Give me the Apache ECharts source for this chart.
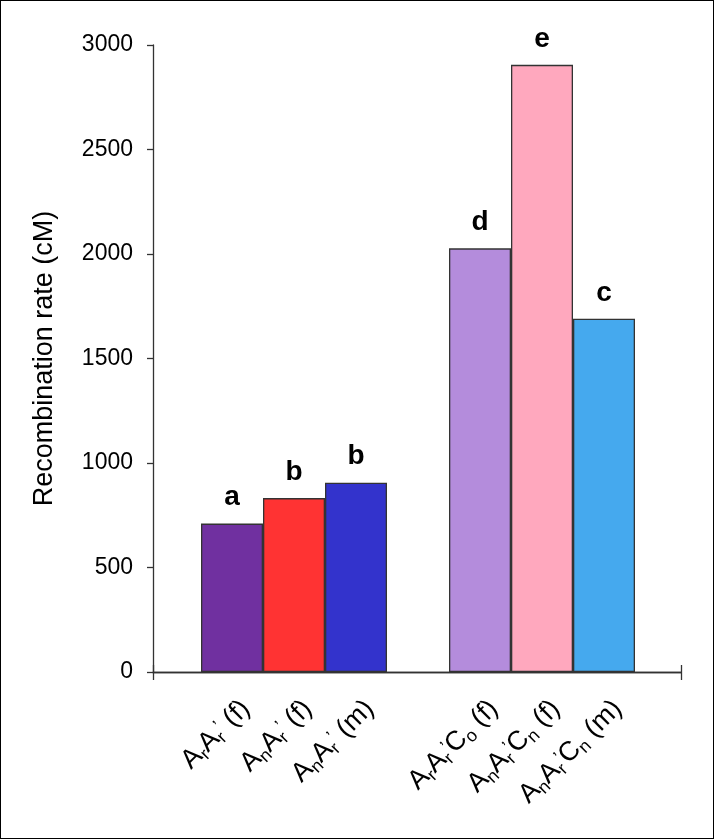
<!DOCTYPE html>
<html><head><meta charset="utf-8">
<script src="https://cdn.jsdelivr.net/npm/echarts@6/dist/echarts.min.js"></script>
<style>
html,body{margin:0;padding:0;background:#fff;}
#c{width:714px;height:839px;box-sizing:border-box;border:1px solid #000;}
</style></head>
<body><div id="c"></div>
<script>
// ---- data ----
var categories = [
  '{m|A}{s|r}{m|A}{s|r}{p|\u2019}{m| (f)}',
  '{m|A}{s|n}{m|A}{s|r}{p|\u2019}{m| (f)}',
  '{m|A}{s|n}{m|A}{s|r}{p|\u2019}{m| (m)}',
  '',
  '{m|A}{s|r}{m|A}{s|r}{p|\u2019}{m|C}{s|o}{m| (f)}',
  '{m|A}{s|n}{m|A}{s|r}{p|\u2019}{m|C}{s|n}{m| (f)}',
  '{m|A}{s|n}{m|A}{s|r}{p|\u2019}{m|C}{s|n}{m| (m)}'
];
var values = [710, 832, 906, null, 2027, 2905, 1690];
var letters = ['a', 'b', 'b', '', 'd', 'e', 'c'];
var colors = ['#7030A0', '#FF3333', '#3333CC', '#ffffff', '#B48CDC', '#FFA8BE', '#45A9EE'];
var yTicks = {min: 0, max: 3000, interval: 500};
var yTitle = 'Recombination rate (cM)';

var font = 'Liberation Sans, Arial, sans-serif';
var chart = echarts.init(document.getElementById('c'));
var frameAxis = {
  gridIndex: 0, type: 'value', min: 0, max: 1, interval: 1, position: 'bottom',
  axisLine: {show: true, lineStyle: {color: '#333', width: 1.3}},
  axisLabel: {show: false}, splitLine: {show: false}
};
chart.setOption({
  animation: false,
  grid: [
    {left: 152, right: 32, top: 44, bottom: 166},
    {left: 200, right: 78, top: 44, bottom: 166}
  ],
  xAxis: [
    Object.assign({}, frameAxis, {axisTick: {show: true, inside: false, length: 8, lineStyle: {color: '#333', width: 1.3}}}),
    Object.assign({}, frameAxis, {axisTick: {show: true, inside: true, length: 7, lineStyle: {color: '#333', width: 1.3}}}),
    {gridIndex: 1, type: 'category', data: categories,
     axisLine: {show: false}, axisTick: {show: false},
     axisLabel: {interval: 0, rotate: 45, margin: 6, color: '#000', padding: [57, 9, 0, 0],
       fontFamily: font, fontSize: 27,
       rich: {
         m: {fontSize: 27, fontFamily: font, color: '#000', lineHeight: 32, verticalAlign: 'middle'},
         s: {fontSize: 18, fontFamily: font, color: '#000', verticalAlign: 'bottom', lineHeight: 32},
         p: {fontSize: 18, fontFamily: font, color: '#000', verticalAlign: 'middle', lineHeight: 32, padding: [0, 0, 8, 0]}
       }}}
  ],
  yAxis: [
    {gridIndex: 0, type: 'value', min: yTicks.min, max: yTicks.max, interval: yTicks.interval,
     name: yTitle, nameLocation: 'middle', nameGap: 95,
     nameTextStyle: {fontSize: 27, fontFamily: font, color: '#000'},
     axisLine: {show: true, lineStyle: {color: '#333', width: 1.3}},
     axisTick: {show: true, length: 6, lineStyle: {color: '#333', width: 1.3}},
     axisLabel: {fontSize: 23, fontFamily: font, color: '#000', margin: 20,
       formatter: function (v) { return String(v); }},
     splitLine: {show: false}},
    {gridIndex: 1, type: 'value', min: yTicks.min, max: yTicks.max, interval: yTicks.interval, show: false}
  ],
  series: [{
    type: 'bar', xAxisIndex: 2, yAxisIndex: 1, barWidth: '100%',
    data: values.map(function (v, i) {
      return {value: v === null ? '-' : v, itemStyle: {color: colors[i], borderColor: '#333', borderWidth: 1.3}};
    }),
    label: {show: true, position: 'top', distance: 12, fontSize: 28, fontWeight: 'bold', fontFamily: font, color: '#000',
      formatter: function (p) { return letters[p.dataIndex]; }}
  }]
});
</script></body></html>
